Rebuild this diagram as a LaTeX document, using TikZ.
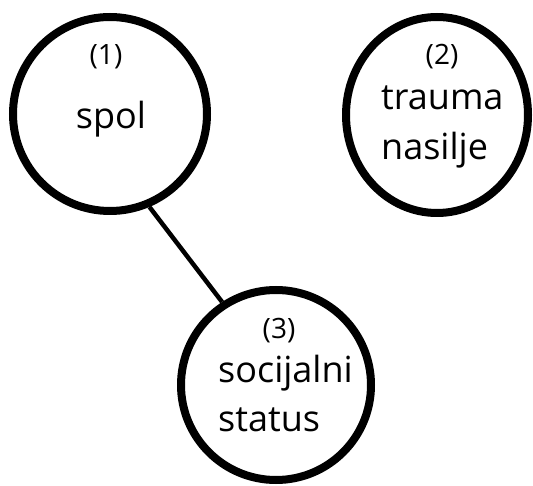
\documentclass[tikz,border=0pt]{standalone}
\usepackage{fontspec}
\setmainfont{Open Sans}
\usetikzlibrary{shapes.geometric}
\begin{document}
\begin{tikzpicture}[x=1pt,y=-1pt,
  ring/.style={draw=black, line width=8pt, fill=white, inner sep=0pt},
  numtext/.style={inner sep=0pt, font=\fontsize{28}{32}\selectfont},
  labtext/.style={inner sep=0pt, font=\fontsize{36}{42}\selectfont},
  link/.style={draw=black, line width=4.5pt}]
  \useasboundingbox (0,0) rectangle (533,486);
  % factor circles
  \node[ring, circle, minimum size=194pt] (c1) at (110,114) {};
  \node[ring, ellipse, minimum width=182pt, minimum height=196pt] (c2) at (437,115) {};
  \node[ring, circle, minimum size=190pt] (c3) at (276,385) {};
  % connection between (1) and (3)
  \draw[link] (c1.-67) -- (c3.123);
  % labels of circle (1)
  \node[numtext] (n1) at (106,57) {(1)};
  \node[labtext, anchor=base] (l1) at (111,129) {spol};
  % labels of circle (2)
  \node[numtext] (n2) at (442,57) {(2)};
  \node[labtext, anchor=base west] (l2a) at (381,110) {trauma};
  \node[labtext, anchor=base west] (l2b) at (381,160) {nasilje};
  % labels of circle (3)
  \node[numtext] (n3) at (279,331) {(3)};
  \node[labtext, anchor=base west] (l3a) at (218,382) {socijalni};
  \node[labtext, anchor=base west] (l3b) at (218,431) {status};
\end{tikzpicture}
\end{document}
